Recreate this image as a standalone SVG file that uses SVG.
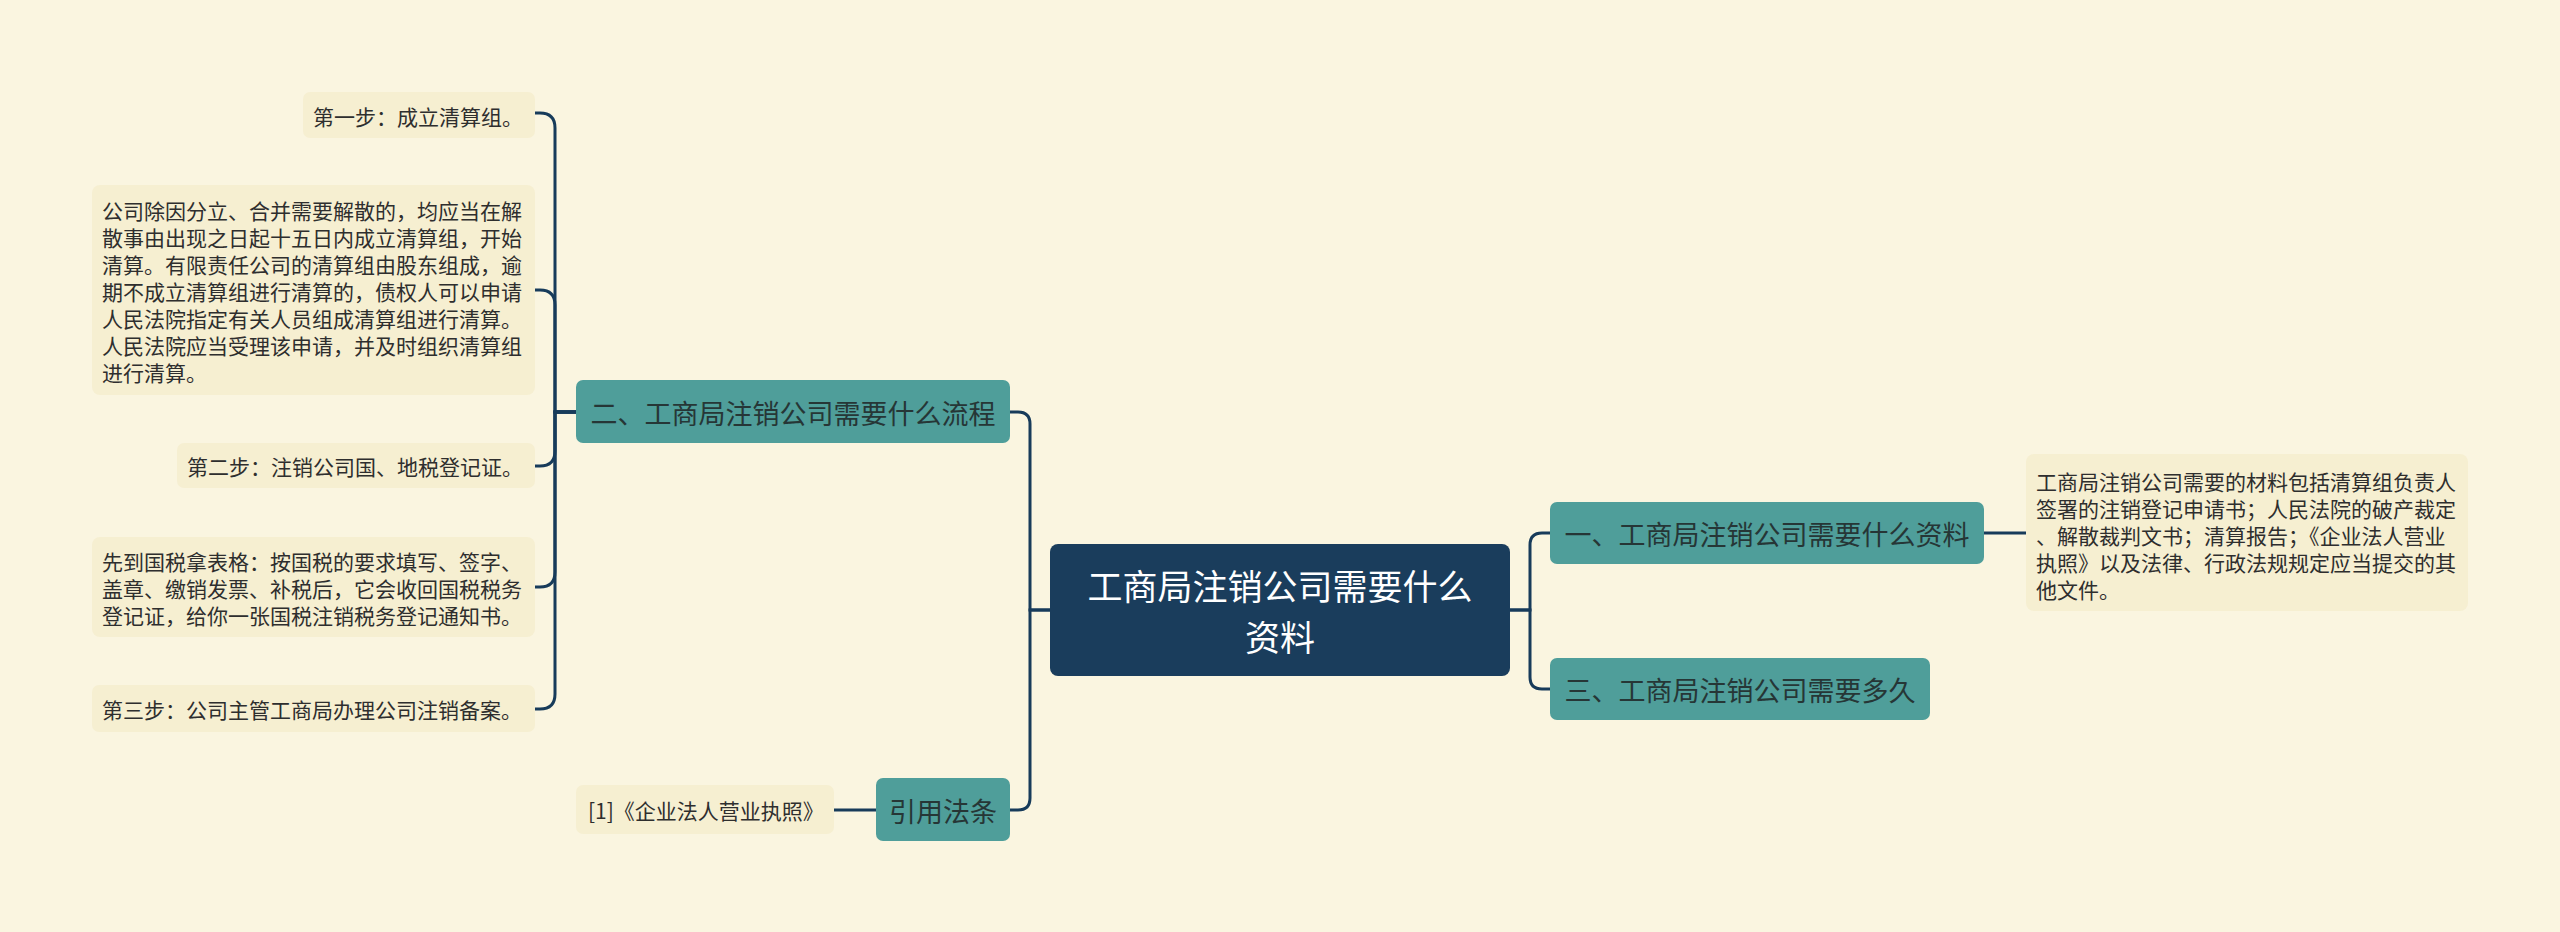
<svg xmlns="http://www.w3.org/2000/svg" width="2560" height="932" viewBox="0 0 2560 932">
<style>
.bg{fill:#faf5e0}
.root{fill:#1a3d5c}
.main{fill:#4f9e9a}
.leaf{fill:#f6efd1}
text{font-family:"Noto Sans CJK SC","Liberation Sans",sans-serif;dominant-baseline:central}
.rt{fill:#ffffff;font-size:35px;text-anchor:middle}
.mt{fill:#263636;font-size:27px;text-anchor:middle}
.lt{fill:#2e2e2e;font-size:21px}
.conn path{fill:none;stroke:#173b5a;stroke-width:3}
</style>
<rect class="bg" x="0" y="0" width="2560" height="932"/>
<g class="conn" id="connectors">
<path d="M1050 610 H1030 V424 Q1030 412 1018 412 H1010"/>
<path d="M1050 610 H1030 V798 Q1030 810 1018 810 H1010"/>
<path d="M876 810 H834"/>
<path d="M1510 610 H1530 V545 Q1530 533 1542 533 H1550"/>
<path d="M1510 610 H1530 V677 Q1530 689 1542 689 H1550"/>
<path d="M1984 533 H2026"/>
<path d="M576 412 H555 V128 Q555 113 540 113 H535"/>
<path d="M576 412 H555 V305 Q555 290 540 290 H535"/>
<path d="M576 412 H555 V451 Q555 466 540 466 H535"/>
<path d="M576 412 H555 V572 Q555 587 540 587 H535"/>
<path d="M576 412 H555 V694 Q555 709 540 709 H535"/>
</g>
<g id="root">
<rect class="root" x="1050" y="544" width="460" height="132" rx="8"/>
<text class="rt" x="1280" y="584.5">工商局注销公司需要什么</text>
<text class="rt" x="1280" y="635.5">资料</text>
</g>
<g id="node-liucheng">
<rect class="main" x="576" y="380" width="434" height="63" rx="7"/>
<text class="mt" x="793" y="412">二、工商局注销公司需要什么流程</text>
</g>
<g id="node-yinyong">
<rect class="main" x="876" y="778" width="134" height="63" rx="7"/>
<text class="mt" x="943" y="810">引用法条</text>
</g>
<g id="node-ziliao">
<rect class="main" x="1550" y="502" width="434" height="62" rx="7"/>
<text class="mt" x="1767" y="533">一、工商局注销公司需要什么资料</text>
</g>
<g id="node-duojiu">
<rect class="main" x="1550" y="658" width="380" height="62" rx="7"/>
<text class="mt" x="1740" y="689">三、工商局注销公司需要多久</text>
</g>
<g id="leaf-ref">
<rect class="leaf" x="576" y="785" width="258" height="49" rx="7"/>
<text class="lt" x="588" y="810">[1]《企业法人营业执照》</text>
</g>
<g id="leaf-detail">
<rect class="leaf" x="2026" y="454" width="442" height="157" rx="8"/>
<text class="lt" x="2036" y="480.5">工商局注销公司需要的材料包括清算组负责人</text>
<text class="lt" x="2036" y="507.5">签署的注销登记申请书；人民法院的破产裁定</text>
<text class="lt" x="2036" y="534.5">、解散裁判文书；清算报告；《企业法人营业</text>
<text class="lt" x="2036" y="561.5">执照》以及法律、行政法规规定应当提交的其</text>
<text class="lt" x="2036" y="588.5">他文件。</text>
</g>
<g id="leaf-step1">
<rect class="leaf" x="303" y="92" width="232" height="46" rx="7"/>
<text class="lt" x="313" y="116">第一步：成立清算组。</text>
</g>
<g id="leaf-qingsuan">
<rect class="leaf" x="92" y="185" width="443" height="210" rx="8"/>
<text class="lt" x="102" y="210">公司除因分立、合并需要解散的，均应当在解</text>
<text class="lt" x="102" y="237">散事由出现之日起十五日内成立清算组，开始</text>
<text class="lt" x="102" y="264">清算。有限责任公司的清算组由股东组成，逾</text>
<text class="lt" x="102" y="291">期不成立清算组进行清算的，债权人可以申请</text>
<text class="lt" x="102" y="318">人民法院指定有关人员组成清算组进行清算。</text>
<text class="lt" x="102" y="345">人民法院应当受理该申请，并及时组织清算组</text>
<text class="lt" x="102" y="372">进行清算。</text>
</g>
<g id="leaf-step2">
<rect class="leaf" x="177" y="443" width="358" height="45" rx="7"/>
<text class="lt" x="187" y="466">第二步：注销公司国、地税登记证。</text>
</g>
<g id="leaf-guoshui">
<rect class="leaf" x="92" y="537" width="443" height="100" rx="8"/>
<text class="lt" x="102" y="561">先到国税拿表格：按国税的要求填写、签字、</text>
<text class="lt" x="102" y="588">盖章、缴销发票、补税后，它会收回国税税务</text>
<text class="lt" x="102" y="615">登记证，给你一张国税注销税务登记通知书。</text>
</g>
<g id="leaf-step3">
<rect class="leaf" x="92" y="685" width="443" height="47" rx="7"/>
<text class="lt" x="102" y="709">第三步：公司主管工商局办理公司注销备案。</text>
</g>
</svg>
